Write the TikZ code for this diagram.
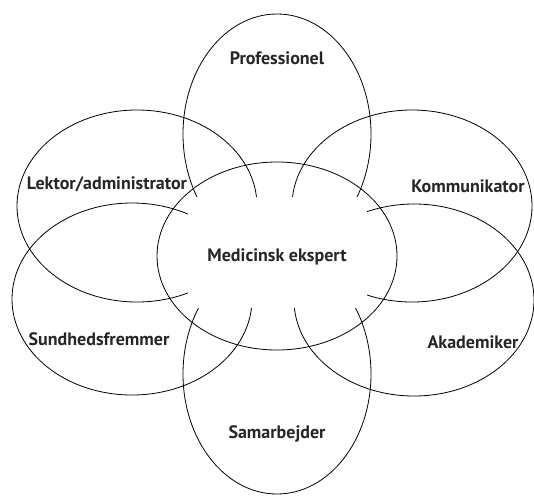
\documentclass[tikz,border=0pt]{standalone}
\usepackage{fontspec}
\setmainfont{PT Sans}
\tikzset{petal/.style={draw,line width=0.8pt}}
\tikzset{role/.style={anchor=base,font=\bfseries\fontsize{18}{20}\selectfont,text=black!85}}

\begin{document}
\begin{tikzpicture}[x=1pt,y=-1pt]
  \useasboundingbox (0,0) rectangle (534,495);
  \coordinate (mid) at (277,256);
  \coordinate (prof) at (277,134);
  \coordinate (sam) at (277,374);
  \coordinate (lek) at (137,206);
  \coordinate (kom) at (412,206);
  \coordinate (sun) at (132,299);
  \coordinate (aka) at (414,300);
  \draw[petal] (prof) ellipse [x radius=94pt,y radius=120pt];
  \draw[petal] (sam) ellipse [x radius=94pt,y radius=120pt];
  \draw[petal] (lek) ellipse [x radius=120pt,y radius=96pt];
  \draw[petal] (kom) ellipse [x radius=120pt,y radius=96pt];
  \draw[petal] (sun) ellipse [x radius=120pt,y radius=96pt];
  \draw[petal] (aka) ellipse [x radius=120pt,y radius=96pt];
  \coordinate (cutA) at (188,197);
  \coordinate (cutB) at (367,308);
  \fill[white] (cutA) rectangle (cutB);
  \draw[petal] (mid) ellipse [x radius=120pt,y radius=94pt];
  \node[role] (tmid) at (277,261) {Medicinsk ekspert};
  \node[role] (tprof) at (277,64) {Professionel};
  \node[role] (tlek) at (107,189) {Lektor/administrator};
  \node[role] (tkom) at (468,192) {Kommunikator};
  \node[role] (tsun) at (99,345) {Sundhedsfremmer};
  \node[role] (taka) at (473,348) {Akademiker};
  \node[role] (tsam) at (277,438) {Samarbejder};
\end{tikzpicture}
\end{document}
